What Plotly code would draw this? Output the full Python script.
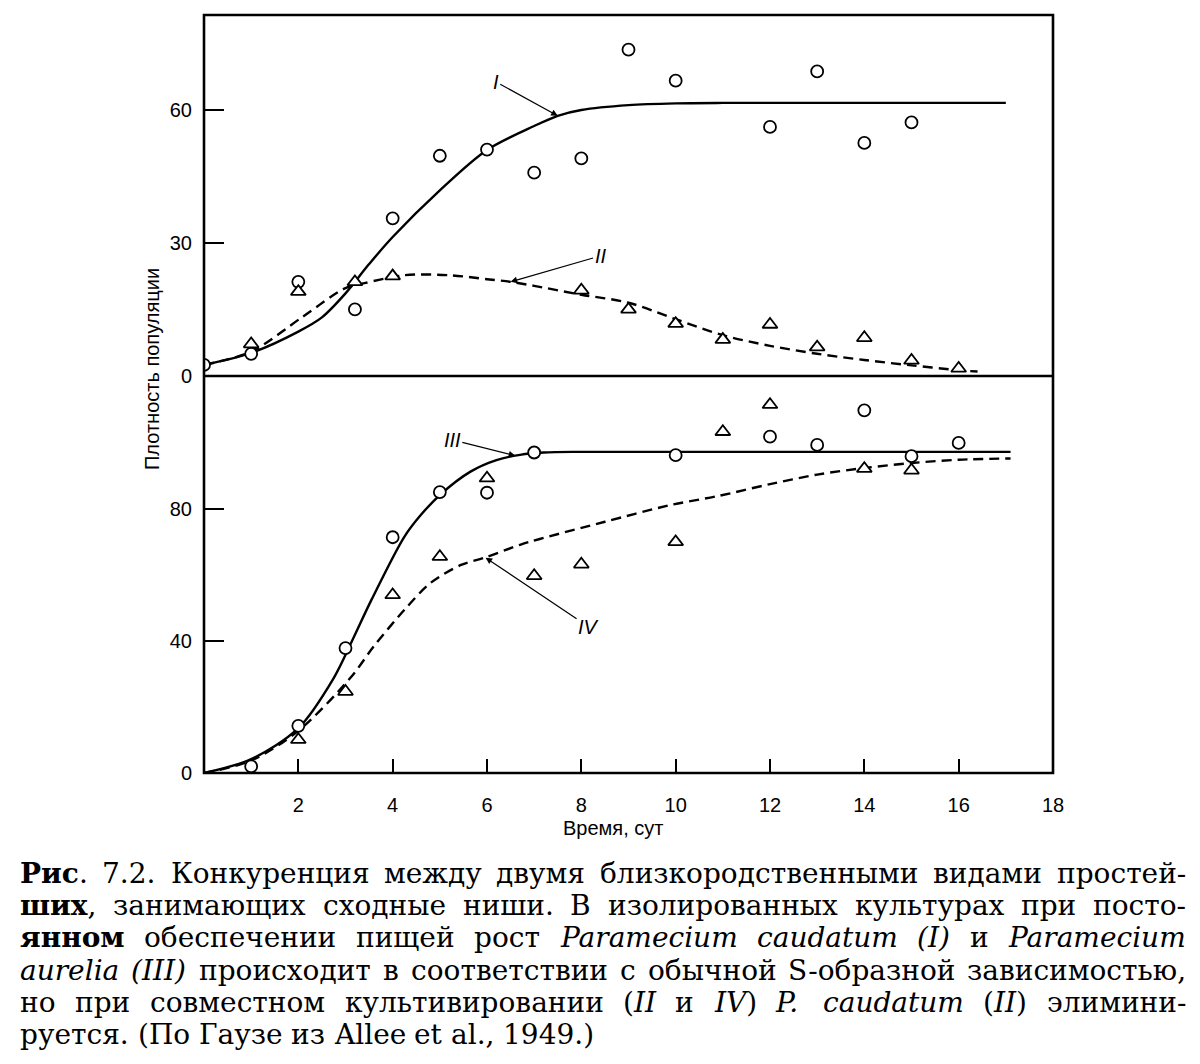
import glob
import re
import struct

import plotly.graph_objects as go

# --- data ----------------------------------------------------------------
# top panel: P. caudatum alone (I, circles) and in mixed culture (II, triangles)
cau_alone_x = [0, 1, 2, 3.2, 4, 5, 6, 7, 8, 9, 10, 12, 13, 14, 15]
cau_alone_y = [2.5, 5, 21.2, 15, 35.5, 49.6, 51, 45.8, 49, 73.5, 66.5, 56.1, 68.6, 52.5, 57.1]
cau_mixed_x = [1, 2, 3.2, 4, 8, 9, 10, 11, 12, 13, 14, 15, 16]
cau_mixed_y = [7.2, 19, 21.2, 22.5, 19.3, 15, 11.8, 8.2, 11.6, 6.5, 8.6, 3.5, 1.7]

curve1_x = [0, 1, 2, 2.5, 3, 3.5, 4, 5, 6, 7, 7.5, 8, 9, 10, 11, 12, 17]
curve1_y = [2.5, 5.2, 10, 13.2, 18.6, 25.2, 31.3, 41.8, 50.9, 56.3, 58.6, 59.9, 61, 61.4, 61.5, 61.5, 61.5]
curve2_x = [0, 1, 2.1, 3, 3.4, 4.25, 5.2, 6, 6.5, 7, 8, 9, 10, 11, 12, 13, 14, 15, 16, 16.4]
curve2_y = [2.5, 5.5, 13.4, 19.8, 20.9, 22.7, 22.7, 21.8, 21.2, 20.3, 18.3, 16.5, 12.8, 9.2, 6.8, 5.0, 3.6, 2.4, 1.3, 1.0]

# bottom panel: P. aurelia alone (III, circles) and in mixed culture (IV, triangles)
aur_alone_x = [1, 2, 3, 4, 5, 6, 7, 10, 12, 13, 14, 15, 16]
aur_alone_y = [2.0, 14.3, 37.9, 71.5, 85.2, 85.0, 97.2, 96.4, 102, 99.5, 110, 96.1, 100.1]
aur_mixed_x = [2, 3, 4, 5, 6, 7, 8, 10, 11, 12, 14, 15]
aur_mixed_y = [10.1, 24.7, 54, 65.6, 89.4, 59.8, 63.3, 70.1, 103.5, 111.7, 92.3, 91.8]

curve3_x = [0, 1, 2, 2.75, 3.15, 3.55, 4.25, 4.6, 5, 5.65, 6.2, 6.7, 7.2, 8, 10, 17.1]
curve3_y = [0, 4.2, 13.6, 28.8, 40.4, 52.5, 71.7, 78.3, 84.3, 91.4, 94.9, 96.5, 97.2, 97.4, 97.4, 97.4]
curve4_x = [0, 1, 2, 3.1, 3.6, 4.25, 4.8, 5.45, 5.95, 6.7, 7.1, 8.5, 9.9, 10.9, 12, 13, 14, 15, 16, 17.1]
curve4_y = [0, 3.8, 12.8, 28.8, 38.4, 49.5, 57.6, 63.1, 65.3, 69.2, 70.9, 76.2, 81.3, 84, 87.6, 90.5, 92.5, 94, 95, 95.4]

x_ticks = [2, 4, 6, 8, 10, 12, 14, 16, 18]
top_ticks = [0, 30, 60]
bottom_ticks = [0, 40, 80]

caption_lines = [
    "<b>Рис</b>. 7.2. Конкуренция между двумя близкородственными видами простей-",
    "<b>ших</b>, занимающих сходные ниши. В изолированных культурах при посто-",
    "<b>янном</b> обеспечении пищей рост <i>Paramecium</i> <i>caudatum</i> <i>(I)</i> и <i>Paramecium</i>",
    "<i>aurelia</i> <i>(III)</i> происходит в соответствии с обычной S-образной зависимостью,",
    "но при совместном культивировании (<i>II</i> и <i>IV</i>) <i>P.</i> <i>caudatum</i> (<i>II</i>) элимини-",
    "руется. (По Гаузе из Allee et al., 1949.)",
]
caption_line_py = [873, 905, 937, 970, 1002, 1034]
justified = [True, True, True, True, True, False]

CAP_SIZE = 28
CAP_LEFT, CAP_RIGHT = 18, 1186


# --- glyph advance widths straight from the installed TTF, to justify the caption ---
def font_advance(path):
    data = open(path, "rb").read()
    ntab = struct.unpack(">H", data[4:6])[0]
    tab = {}
    for i in range(ntab):
        tag, _, off, _ = struct.unpack(">4sIII", data[12 + 16 * i:28 + 16 * i])
        tab[tag.decode("latin-1")] = off
    upem = struct.unpack(">H", data[tab["head"] + 18:tab["head"] + 20])[0]
    nhm = struct.unpack(">H", data[tab["hhea"] + 34:tab["hhea"] + 36])[0]
    adv = [struct.unpack(">H", data[tab["hmtx"] + 4 * i:tab["hmtx"] + 4 * i + 2])[0] for i in range(nhm)]
    cm = tab["cmap"]
    sub = None
    for i in range(struct.unpack(">H", data[cm + 2:cm + 4])[0]):
        pid, eid, off = struct.unpack(">HHI", data[cm + 4 + 8 * i:cm + 12 + 8 * i])
        if pid == 3 and eid == 1:
            sub = cm + off
    seg2 = struct.unpack(">H", data[sub + 6:sub + 8])[0]
    seg = seg2 // 2
    ends = struct.unpack(">%dH" % seg, data[sub + 14:sub + 14 + seg2])
    starts = struct.unpack(">%dH" % seg, data[sub + 16 + seg2:sub + 16 + 2 * seg2])
    deltas = struct.unpack(">%dh" % seg, data[sub + 16 + 2 * seg2:sub + 16 + 3 * seg2])
    rpos = sub + 16 + 3 * seg2
    roffs = struct.unpack(">%dH" % seg, data[rpos:rpos + seg2])

    def advance(ch):
        c = ord(ch)
        g = 0
        for i in range(seg):
            if starts[i] <= c <= ends[i]:
                if roffs[i] == 0:
                    g = (c + deltas[i]) & 0xFFFF
                else:
                    p = rpos + 2 * i + roffs[i] + 2 * (c - starts[i])
                    g = struct.unpack(">H", data[p:p + 2])[0]
                    g = (g + deltas[i]) & 0xFFFF if g else 0
                break
        return adv[min(g, nhm - 1)] / upem

    return advance


def find_font(name):
    hits = glob.glob("/usr/share/fonts/**/" + name, recursive=True)
    try:
        return font_advance(hits[0])
    except Exception:
        return lambda ch: 0.3 if ch in " .,()" else 0.62


faces = {
    "": find_font("DejaVuSerif.ttf"),
    "b": find_font("DejaVuSerif-Bold.ttf"),
    "i": find_font("DejaVuSerif-Italic.ttf"),
}


def text_width(markup, size):
    total, style = 0.0, ""
    for part in re.split(r"(</?[bi]>)", markup):
        if re.fullmatch(r"<[bi]>", part):
            style = part[1]
        elif re.fullmatch(r"</[bi]>", part):
            style = ""
        else:
            total += sum(faces[style](ch) for ch in part)
    return total * size


SPLIT = 397 / 758  # share of the plot height taken by the lower panel

fig = go.Figure()

def curve(x, y, xa, ya, dash):
    fig.add_trace(go.Scatter(x=x, y=y, xaxis=xa, yaxis=ya, mode="lines",
                             line=dict(color="black", width=2.4, dash=dash, shape="spline", smoothing=0.9)))

def points(x, y, xa, ya, symbol, size):
    fig.add_trace(go.Scatter(x=x, y=y, xaxis=xa, yaxis=ya, mode="markers",
                             marker=dict(symbol=symbol, size=size, color="white",
                                         line=dict(color="black", width=1.8))))

curve(curve1_x, curve1_y, "x2", "y2", "solid")
curve(curve2_x, curve2_y, "x2", "y2", "10px,6px")
curve(curve3_x, curve3_y, "x", "y", "solid")
curve(curve4_x, curve4_y, "x", "y", "10px,6px")
points(cau_alone_x, cau_alone_y, "x2", "y2", "circle", 12)
points(cau_mixed_x, cau_mixed_y, "x2", "y2", "triangle-up", 13)
points(aur_alone_x, aur_alone_y, "x", "y", "circle", 12)
points(aur_mixed_x, aur_mixed_y, "x", "y", "triangle-up", 13)

tickfont = dict(family="Liberation Sans, Arial", size=20, color="black")
yax = dict(ticks="inside", ticklen=20, tickwidth=2, tickcolor="black", showgrid=False,
           zeroline=False, showline=False, tickfont=tickfont, ticklabelstandoff=11)

# the page adds an 8px body margin, so the plot box is shifted up/left by 8px here
fig.update_layout(
    width=1200, height=1064,
    margin=dict(l=196, r=155, t=7, b=299),
    plot_bgcolor="white", paper_bgcolor="white",
    showlegend=False,
    xaxis=dict(domain=[0, 1], anchor="y", range=[0, 18], tickvals=x_ticks, ticks="inside",
               ticklen=14, tickwidth=2, tickcolor="black", showgrid=False, zeroline=False,
               showline=False, tickfont=tickfont, ticklabelstandoff=18),
    yaxis=dict(domain=[0, SPLIT], anchor="x", range=[0, 120.4], tickvals=bottom_ticks, **yax),
    xaxis2=dict(domain=[0, 1], anchor="y2", range=[0, 18], visible=False),
    yaxis2=dict(domain=[SPLIT, 1], anchor="x2", range=[0, 81.3], tickvals=top_ticks, **yax),
    shapes=[
        dict(type="rect", xref="paper", yref="paper", x0=0, x1=1, y0=0, y1=1,
             line=dict(color="black", width=2.6)),
        dict(type="line", xref="paper", yref="paper", x0=0, x1=1, y0=SPLIT, y1=SPLIT,
             line=dict(color="black", width=2.4)),
    ],
)

label_font = dict(family="Liberation Sans, Arial", size=20, color="black")
arrows = [
    ("<i>I</i>", 7.5, 58.6, -62, -34, "x2", "y2"),
    ("<i>II</i>", 6.5, 21.2, 90, -26, "x2", "y2"),
    ("<i>III</i>", 6.6, 96.2, -63, -16, "x", "y"),
    ("<i>IV</i>", 5.97, 65.3, 103, 69, "x", "y"),
]
for text, x, y, ax, ay, xr, yr in arrows:
    fig.add_annotation(text=text, x=x, y=y, xref=xr, yref=yr, ax=ax, ay=ay,
                       showarrow=True, arrowhead=2, arrowsize=1.1, arrowwidth=1.2,
                       arrowcolor="black", font=label_font)

fig.add_annotation(text="Плотность популяции", xref="paper", yref="paper",
                   x=(152 - 204) / 849, y=(773 - 369) / 758, textangle=-90,
                   xanchor="center", yanchor="middle", showarrow=False,
                   font=dict(family="Liberation Sans, Arial", size=20, color="black"))
fig.add_annotation(text="Время, сут", xref="paper", yref="paper",
                   x=(613 - 204) / 849, y=(773 - 828) / 758, xanchor="center", yanchor="middle",
                   showarrow=False, font=dict(family="Liberation Sans, Arial", size=20, color="black"))

# caption: one annotation per word, spaces stretched to fill the line like the book
cap_font = dict(family="DejaVu Serif", size=CAP_SIZE, color="black")
space = text_width(" ", CAP_SIZE)
for line, py, just in zip(caption_lines, caption_line_py, justified):
    words = line.split(" ")
    widths = [text_width(w, CAP_SIZE) + 2 for w in words]  # +2 for the annotation padding
    gap = (CAP_RIGHT - CAP_LEFT - sum(widths)) / (len(words) - 1) if just else space - 2
    gap = max(gap, space - 2)
    left = CAP_LEFT
    for word, w in zip(words, widths):
        fig.add_annotation(text=word, xref="paper", yref="paper", x=(left - 204) / 849,
                           y=(773 - py) / 758, xanchor="left", yanchor="middle",
                           showarrow=False, font=cap_font)
        left += w + gap

fig.write_html("out.html")
